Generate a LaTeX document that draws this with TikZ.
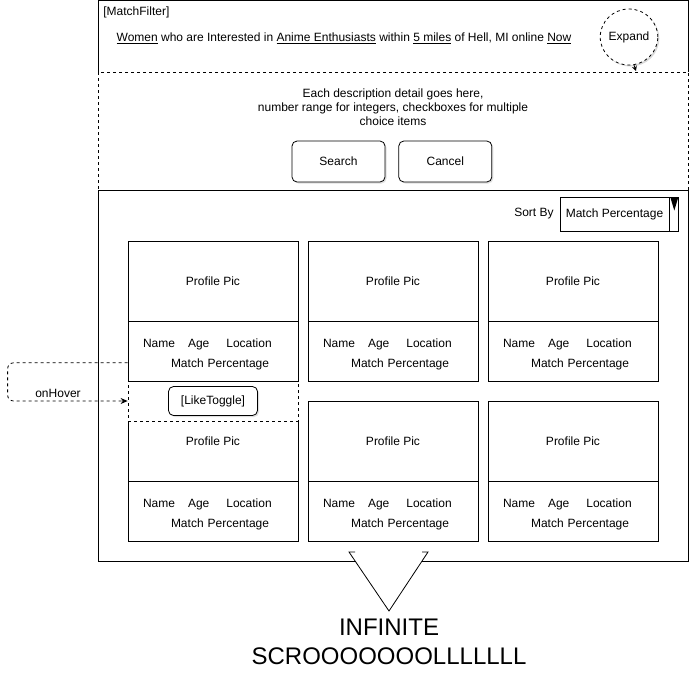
\documentclass[tikz,border=0pt]{standalone}
\usepackage{fontspec}
\setmainfont{Liberation Sans}
\usetikzlibrary{positioning}
\usetikzlibrary{shadows}
\usetikzlibrary{shapes.geometric}
\usetikzlibrary{arrows.meta}

\newcommand\cardinfo{\rule{0pt}{13pt}Name\hspace{13pt}Age\hspace{17pt}Location\\\hspace*{28pt}Match Percentage}

\tikzset{
  btn/.style={draw, fill=white, rounded corners=5pt, inner sep=0pt,
    minimum width=93pt, minimum height=41pt,
    drop shadow={opacity=0.25, shadow xshift=1.5pt, shadow yshift=-1.5pt}},
  picbox/.style={draw, fill=white, inner sep=0pt, minimum width=170pt, minimum height=80pt},
  infobox/.style={draw, fill=white, inner sep=0pt, minimum width=170pt, minimum height=60pt,
    align=left, text width=140pt, font=\fontsize{12}{20}\selectfont},
  hoverbox/.style={draw, dashed, fill=white, inner sep=0pt, minimum width=170pt, minimum height=40pt,
    preaction={draw=white, solid, line width=2pt}},
  hoverline/.style={dashed, rounded corners=6pt, -{Stealth[length=7pt, width=6pt]}},
}

\begin{document}
\begin{tikzpicture}[x=1pt, y=-1pt, line width=0.8pt, font=\fontsize{12}{14}\selectfont]
\useasboundingbox (0,0) rectangle (690,673);

% filter bar
\draw (98,72) |- (688,0.5) -- (688,72);
\node[anchor=west, inner sep=0pt] (title) at (103,12) {[MatchFilter]};
\node (query) at (344,38) {\underline{Women} who are Interested in \underline{Anime Enthusiasts} within \underline{5 miles} of Hell, MI online \underline{Now}};
\node[draw, dashed, ellipse, fill=white, inner sep=0pt, minimum width=52pt, minimum height=56pt,
  drop shadow={opacity=0.3, shadow xshift=1.5pt, shadow yshift=-1.5pt}] (expand) at (629,37) {Expand};
\coordinate (drop) at (636,71);

% details
\draw[dashed] (98,72) rectangle (688,190);
\draw[dashed, -{Stealth[length=5pt, width=5pt]}] (expand.-80) -- (drop);
\node[align=center] (desc) at (393,107) {Each description detail goes here,\\number range for integers, checkboxes for multiple\\choice items};
\node[btn] (search) at (338.5,161.5) {Search};
\node[btn, right=13pt of search] (cancel) {Cancel};

% results
\draw (98,190) rectangle (688,561);
\node[anchor=east, inner sep=0pt] (sortby) at (554,214) {Sort By};
\node[draw, inner sep=0pt, minimum width=109pt, minimum height=34pt] (sort) at (614.5,214) {Match Percentage};
\node[draw, inner sep=0pt, minimum width=9pt, minimum height=34pt, right=0pt of sort] (sortarrow) {};
\fill ([xshift=1pt, yshift=-1pt]sortarrow.north west) -- ([xshift=-1pt, yshift=-1pt]sortarrow.north east) -- ([yshift=-14pt]sortarrow.north) -- cycle;

\foreach \x/\n in {213/4, 393/5, 573/6} {
  \node[picbox] (p\n) at (\x,441) {Profile Pic};
  \node[infobox, below=0pt of p\n] (i\n) {\cardinfo};
}
\node[hoverbox] (hover) at (213,401) {};
\node[btn, minimum width=89pt, minimum height=29pt] (like) at (hover) {[LikeToggle]};
\foreach \x/\n in {213/1, 393/2, 573/3} {
  \node[picbox] (p\n) at (\x,281) {Profile Pic};
  \node[infobox, below=0pt of p\n] (i\n) {\cardinfo};
}
\draw[hoverline] ([yshift=-11pt]i1.west) -- ++(-120,0) |- (hover.west) node[pos=0.71, above] {onHover};

% scroll
\fill[white] (349,552) -- (389,611) -- (428,552) -- cycle;
\draw (355,552) -- (349,552) -- (389,611) -- (428,552) -- (422,552);
\node[align=center, font=\fontsize{24}{29}\selectfont] (scroll) at (389,642) {INFINITE\\SCROOOOOOOLLLLLLL};
%
\end{tikzpicture}
\end{document}
